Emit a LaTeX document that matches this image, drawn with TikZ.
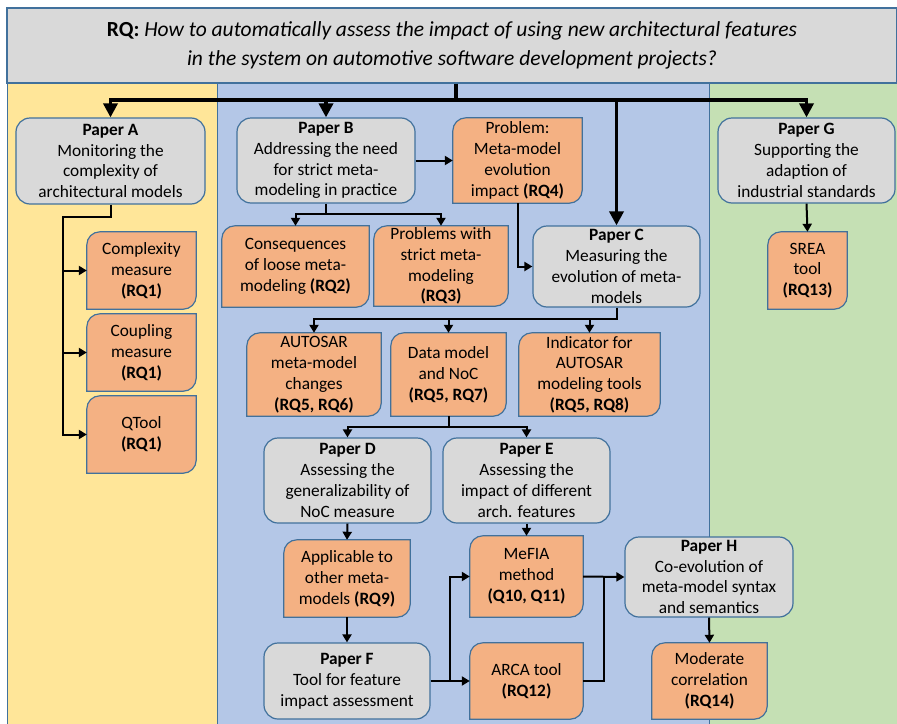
\documentclass[tikz,border=0pt]{standalone}
\usepackage{fontspec}
\setmainfont{Carlito}
\usetikzlibrary{arrows.meta}
\definecolor{cyel}{HTML}{FFE699}
\definecolor{cblue}{HTML}{B4C7E7}
\definecolor{cgreen}{HTML}{C5E0B4}
\definecolor{corange}{HTML}{F4B183}
\definecolor{cgray}{HTML}{D9D9D9}
\definecolor{bord}{HTML}{41719C}
\pgfdeclarelayer{bgcols}
\pgfdeclarelayer{boxlayer}
\pgfsetlayers{bgcols,boxlayer,main}
\newcommand\boxfont{\fontsize{17.3}{20.8}\selectfont}
\newcommand\orshape[1]{\path[orfill] (#1.south west) -- ([yshift=-13pt]#1.north west) arc[start angle=180,end angle=90,radius=13pt] -- (#1.north east) -- ([yshift=13pt]#1.south east) arc[start angle=0,end angle=-90,radius=13pt] -- cycle;}
\tikzset{
 txt/.style={font=\boxfont, align=center, inner sep=0pt, text=black},
 graybox/.style={txt, draw=bord, line width=1.2pt, fill=cgray, rounded corners=14pt},
 orbox/.style={txt},
 orfill/.style={draw=bord, line width=1.2pt, fill=corange},
 ln/.style={line width=2pt},
 arr/.style={line width=2pt, -{Triangle[width=9pt,length=8pt]}},
 thk/.style={line width=3.8pt},
 thkarr/.style={thk, -{Triangle[width=14pt,length=14pt]}},
 col/.style={draw=bord, line width=0.8pt}
}
\begin{document}
\begin{tikzpicture}[x=1pt,y=-1pt]
\useasboundingbox (0,0) rectangle (897,723);
\begin{pgfonlayer}{bgcols}
\fill[white] (0,0) rectangle (897,723);
\path[col, fill=cyel] (7,83) rectangle (217,724);
\path[col, fill=cblue] (217,83) rectangle (709,724);
\path[col, fill=cgreen] (709,83) rectangle (897,724);
\end{pgfonlayer}
% RQ
\node[txt, draw=bord, line width=1.2pt, fill=cgray, minimum width=890pt, minimum height=75pt,
  font=\fontsize{21.5}{29.5}\selectfont] (rq) at (452,45.5)
  {{\bfseries RQ:} {\itshape How to automatically assess the impact of using new architectural features}\\
   {\itshape in the system on automotive software development projects?}};
% gray boxes
\node[graybox, minimum width=189pt, minimum height=86pt] (pA) at (110.5,161) {\textbf{Paper A}\\Monitoring the\\complexity of\\architectural models};
\node[graybox, minimum width=178pt, minimum height=85pt] (pB) at (326,160.5) {\textbf{Paper B}\\Addressing the need\\for strict meta-\\modeling in practice};
\node[graybox, minimum width=177pt, minimum height=85pt] (pG) at (806.5,160.5) {\textbf{Paper G}\\Supporting the\\adaption of\\industrial standards};
\node[graybox, minimum width=167pt, minimum height=81pt] (pC) at (616.5,266.5) {\textbf{Paper C}\\Measuring the\\evolution of meta-\\models};
\node[graybox, minimum width=167pt, minimum height=85pt] (pD) at (347.5,480.5) {\textbf{Paper D}\\Assessing the\\generalizability of\\NoC measure};
\node[graybox, minimum width=167pt, minimum height=85pt] (pE) at (526.5,480.5) {\textbf{Paper E}\\Assessing the\\impact of different\\arch. features};
\node[graybox, minimum width=168pt, minimum height=80pt] (pH) at (709,577) {\textbf{Paper H}\\Co-evolution of\\meta-model syntax\\and semantics};
\node[graybox, minimum width=166pt, minimum height=76pt] (pF) at (347,681) {\textbf{Paper F}\\Tool for feature\\impact assessment};
% orange boxes
\node[orbox, minimum width=129pt, minimum height=85pt] (prob) at (517.5,160.5) {Problem:\\Meta-model\\evolution\\impact \textbf{(RQ4)}};
\node[orbox, minimum width=109pt, minimum height=77pt] (cx) at (141.5,270.5) {Complexity\\measure\\\textbf{(RQ1)}};
\node[orbox, minimum width=109pt, minimum height=77pt] (cp) at (141.5,352.5) {Coupling\\measure\\\textbf{(RQ1)}};
\node[orbox, minimum width=109pt, minimum height=77pt] (qt) at (141.5,434.5) {QTool\\\textbf{(RQ1)}};
\node[orbox, minimum width=147pt, minimum height=81pt] (cons) at (295.5,266.5) {Consequences\\of loose meta-\\modeling \textbf{(RQ2)}};
\node[orbox, minimum width=134pt, minimum height=80pt] (pstr) at (441,266) {Problems with\\strict meta-\\modeling\\\textbf{(RQ3)}};
\node[orbox, minimum width=79pt, minimum height=77pt] (srea) at (807.5,270.5) {SREA\\tool\\\textbf{(RQ13)}};
\node[orbox, minimum width=134pt, minimum height=83pt] (aut) at (314,374.5) {AUTOSAR\\meta-model\\changes\\\textbf{(RQ5, RQ6)}};
\node[orbox, minimum width=115pt, minimum height=83pt] (dm) at (448.5,374.5) {Data model\\and NoC\\\textbf{(RQ5, RQ7)}};
\node[orbox, minimum width=141pt, minimum height=83pt] (ind) at (589.5,374.5) {Indicator for\\AUTOSAR\\modeling tools\\\textbf{(RQ5, RQ8)}};
\node[orbox, minimum width=126pt, minimum height=77pt] (app) at (347,578.5) {Applicable to\\other meta-\\models \textbf{(RQ9)}};
\node[orbox, minimum width=113pt, minimum height=81pt] (mefia) at (526.5,576.5) {MeFIA\\method\\\textbf{(Q10, Q11)}};
\node[orbox, minimum width=113pt, minimum height=76pt] (arca) at (526.5,681) {ARCA tool\\\textbf{(RQ12)}};
\node[orbox, minimum width=115pt, minimum height=76pt] (mod) at (709.5,681) {Moderate\\correlation\\\textbf{(RQ14)}};
\begin{pgfonlayer}{boxlayer}
\orshape{prob}\orshape{cx}\orshape{cp}\orshape{qt}\orshape{cons}\orshape{pstr}\orshape{srea}
\orshape{aut}\orshape{dm}\orshape{ind}\orshape{app}\orshape{mefia}\orshape{arca}\orshape{mod}
\end{pgfonlayer}
% thick connectors
\coordinate (j0) at (456,100);
\draw[thk] (rq.south -| j0) -- (j0);
\draw[thkarr] (j0) -| (pA.north);
\draw[thkarr] (j0) -| (pB.north);
\draw[thkarr] (j0) -| (pC.north);
\draw[thkarr] (j0) -| (pG.north);
% Paper A
\coordinate (a1) at (63,217);
\draw[arr] (pA.south) |- (a1) |- (qt.west);
\draw[arr] (a1) |- (cx.west);
\draw[arr] (a1) |- (cp.west);
% Paper B
\draw[arr] (pB.east) -- (prob.west);
\coordinate (b1) at (326,214);
\draw[arr] (pB.south) -- (b1) -| (cons.north);
\draw[arr] (b1) -| (pstr.north);
\draw[arr] (prob.south) |- (pC.west);
% Paper G
\draw[arr] (pG.south) -- (srea.north);
% Paper C
\coordinate (c1) at (616.5,319);
\draw[arr] (pC.south) -- (c1) -| (aut.north);
\draw[arr] (c1) -| (dm.north);
\draw[arr] (c1) -| (ind.north);
% Data model
\coordinate (d1) at (448.5,427);
\draw[arr] (dm.south) -- (d1) -| (pD.north);
\draw[arr] (d1) -| (pE.north);
% lower part
\draw[arr] (pD.south) -- (app.north);
\draw[arr] (app.south) -- (pF.north);
\draw[arr] (pE.south) -- (mefia.north);
\coordinate (f1) at (450,681);
\draw[arr] (pF.east) -- (arca.west);
\draw[arr] (f1) |- (mefia.west);
\draw[arr] (mefia.east) -- (pH.west);
\coordinate (m1) at (604,576.5);
\draw[ln] (arca.east) -| (m1);
\draw[arr] (pH.south) -- (mod.north);
\end{tikzpicture}
\end{document}
